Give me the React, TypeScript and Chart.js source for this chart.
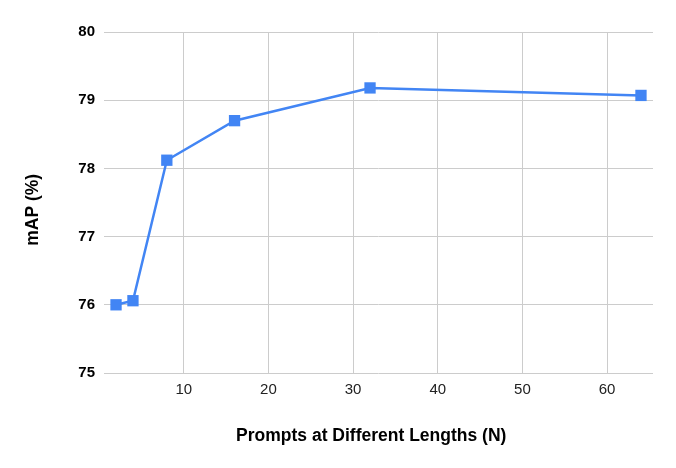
import React, { useEffect, useRef } from "react";
import { Chart, registerables } from "chart.js";

Chart.register(...registerables);

const promptLengths = [2, 4, 8, 16, 32, 64];
const mapValues = [76.0, 76.06, 78.12, 78.7, 79.18, 79.07];
const xTickValues = [10, 20, 30, 40, 50, 60];
const xTitle = "Prompts at Different Lengths (N)";
const yTitle = "mAP (%)";

const FONT = "'Liberation Sans', Arial, sans-serif";

export default function App() {
  const ref = useRef<HTMLCanvasElement | null>(null);

  useEffect(() => {
    document.body.style.margin = "0";
    const canvas = ref.current;
    if (!canvas) return;
    const chart = new Chart(canvas, {
      type: "line",
      data: {
        datasets: [
          {
            data: promptLengths.map((x, i) => ({ x, y: mapValues[i] })),
            borderColor: "#4285F4",
            backgroundColor: "#4285F4",
            borderWidth: 2.5,
            pointStyle: "rect",
            pointRadius: 8,
            pointHoverRadius: 8,
            pointBorderWidth: 0,
            tension: 0,
          },
        ],
      },
      options: {
        responsive: false,
        animation: false,
        layout: { padding: { left: 0, right: 23, top: 32, bottom: 0 } },
        plugins: { legend: { display: false }, tooltip: { enabled: false } },
        scales: {
          x: {
            type: "linear",
            min: 0.58,
            max: 65.42,
            afterBuildTicks: (scale: any) => {
              scale.ticks = xTickValues.map((v) => ({ value: v }));
            },
            afterFit: (scale: any) => {
              scale.height = 95;
            },
            grid: { color: "#cccccc", drawTicks: false, lineWidth: 1 },
            border: { display: false },
            ticks: {
              padding: 8,
              color: "#222222",
              font: { family: FONT, size: 15 },
            },
            title: {
              display: true,
              text: xTitle + "   ",
              color: "#000000",
              font: { family: FONT, size: 17.5, weight: "bold" },
              padding: { top: 0, bottom: 21 },
            },
          },
          y: {
            min: 75,
            max: 80,
            afterFit: (scale: any) => {
              scale.width = 104;
            },
            grid: { color: "#cccccc", drawTicks: false, lineWidth: 1 },
            border: { display: false },
            ticks: {
              stepSize: 1,
              padding: 9,
              color: "#000000",
              font: { family: FONT, size: 15, weight: "bold" },
            },
            title: {
              display: true,
              text: yTitle + "   ",
              color: "#000000",
              font: { family: FONT, size: 17.5, weight: "bold" },
              padding: { top: 23, bottom: 0 },
            },
          },
        },
      },
    });
    return () => chart.destroy();
  }, []);

  return (
    <div style={{ width: 676, height: 468 }}>
      <canvas ref={ref} width={676} height={468} style={{ display: "block" }} />
    </div>
  );
}
